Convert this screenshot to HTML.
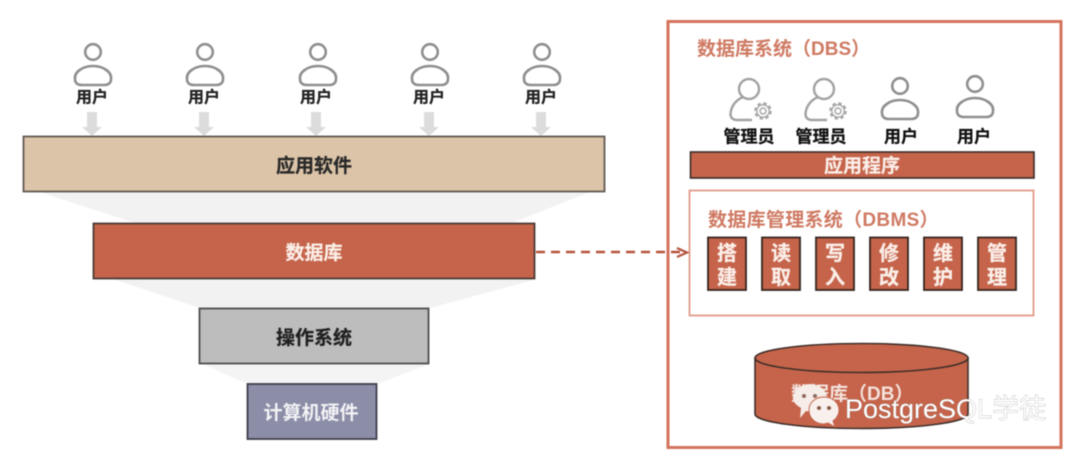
<!DOCTYPE html>
<html lang="zh-CN">
<head>
<meta charset="utf-8">
<style>
html,body{margin:0;padding:0;background:#fff;width:1080px;height:459px;overflow:hidden}
svg{display:block;filter:blur(.5px)}
text{font-family:"Liberation Sans","Noto Sans CJK SC",sans-serif;font-weight:700}
.c{text-anchor:middle}
</style>
</head>
<body>
<svg width="1080" height="459" viewBox="0 0 1080 459" xmlns="http://www.w3.org/2000/svg">
<defs>
<g id="u" fill="none" stroke="#8f8f8f" stroke-width="2.6">
<circle cx="0" cy="0" r="7.800"/>
<path d="M-18,27 C-19,20 -10,14 0,14 C10,14 19,20 18,27 C18,32 14,33 11,33 L-11,33 C-14,33 -18,32 -18,27 Z"/>
</g>
<g id="a" fill="none" stroke="#a2a2a2" stroke-width="2.400">
<circle cx="0" cy="0" r="10"/>
<path d="M-6,8 C-13,11 -18,17 -18.500,25 C-18.500,29 -16,31 -12,31 L3,31"/>
<circle cx="14" cy="22" r="3" stroke-width="1.400" stroke="#a5a5a5"/>
<circle cx="14" cy="22" r="6.200" stroke-width="1.300" stroke="#a5a5a5"/>
<circle cx="14" cy="22" r="7.800" stroke-width="2" stroke-dasharray="3.400 2.730" stroke="#a5a5a5"/>
</g>
<g id="ar" fill="#dcdcdc">
<path d="M-5,0 H5 V15 H10 L0,24 L-10,15 H-5 Z"/>
</g>
</defs>

<rect width="1080" height="459" fill="#fff"/>

<!-- funnel -->
<polygon points="40,192 590,192 512,223 135,223" fill="#f2f2f2"/>
<polygon points="113,279 537,279 430,308 200,308" fill="#f2f2f2"/>
<polygon points="203,364 430,364 377,384 247,384" fill="#f4f4f4"/>

<!-- users left -->
<use href="#u" x="93" y="52"/><use href="#u" x="205" y="52"/><use href="#u" x="318" y="52"/><use href="#u" x="430" y="52"/><use href="#u" x="542" y="52"/>
<g font-size="16" fill="#222" stroke="#222" stroke-width=".25">
<text class="c" x="92" y="102.500">用户</text>
<text class="c" x="204" y="102.500">用户</text>
<text class="c" x="316" y="102.500">用户</text>
<text class="c" x="429" y="102.500">用户</text>
<text class="c" x="541" y="102.500">用户</text>
</g>
<use href="#ar" x="92" y="112"/><use href="#ar" x="204" y="112"/><use href="#ar" x="316" y="112"/><use href="#ar" x="429" y="112"/><use href="#ar" x="541" y="112"/>

<!-- left stack -->
<rect x="23.500" y="136.500" width="581" height="55" fill="#dcc4a8" stroke="#5f5a52" stroke-width="1.800"/>
<text class="c" x="314" y="172" font-size="19" fill="#2a2a2a" stroke="#2a2a2a" stroke-width=".25">应用软件</text>
<rect x="93.500" y="223.500" width="441" height="55" fill="#c5644a" stroke="#4b3a34" stroke-width="1.800"/>
<text class="c" x="314" y="259" font-size="19" fill="#fbeee8" stroke="#fbeee8" stroke-width=".2">数据库</text>
<rect x="199.500" y="308.500" width="229" height="55" fill="#bdbdbd" stroke="#4d4d4d" stroke-width="1.800"/>
<text class="c" x="314" y="344" font-size="19" fill="#222" stroke="#222" stroke-width=".25">操作系统</text>
<rect x="247.500" y="384" width="129" height="55" fill="#8c8ea8" stroke="#3f3f4a" stroke-width="1.800"/>
<text class="c" x="311" y="419" font-size="19" fill="#f2f2f5">计算机硬件</text>

<!-- DBS -->
<rect x="668" y="21.500" width="393" height="426" fill="#fff" stroke="#d4745c" stroke-width="3"/>
<text x="697" y="55" font-size="19" fill="#cf7a63">数据库系统（DBS）</text>

<use href="#a" x="749" y="89"/><use href="#a" x="824" y="89"/>
<use href="#u" x="900" y="86"/>
<use href="#u" x="975" y="84"/>
<g font-size="17" fill="#111" stroke="#111" stroke-width=".25">
<text class="c" x="749" y="142.500">管理员</text>
<text class="c" x="821" y="142.500">管理员</text>
<text class="c" x="901" y="142.500">用户</text>
<text class="c" x="974" y="142.500">用户</text>
</g>

<rect x="690.500" y="152" width="343.500" height="26" fill="#c5644a" stroke="#3a2c28" stroke-width="1.600"/>
<text class="c" x="862" y="172" font-size="19" fill="#fbeee8" stroke="#fbeee8" stroke-width=".2">应用程序</text>

<rect x="689.500" y="190.500" width="344" height="125" fill="#fff" stroke="#e29a86" stroke-width="1.800"/>
<text x="708" y="226" font-size="19" letter-spacing=".3" fill="#cf7a63">数据库管理系统（DBMS）</text>

<g fill="#c5644a" stroke="#35251f" stroke-width="1.800">
<rect x="708" y="237.500" width="38" height="52.500"/>
<rect x="762" y="237.500" width="38" height="52.500"/>
<rect x="816" y="237.500" width="38" height="52.500"/>
<rect x="870" y="237.500" width="38" height="52.500"/>
<rect x="924" y="237.500" width="38" height="52.500"/>
<rect x="978" y="237.500" width="38" height="52.500"/>
</g>
<g fill="#fbeee8" stroke="#fbeee8" stroke-width=".3" font-size="20">
<text class="c" x="727" y="260">搭</text><text class="c" x="727" y="284">建</text>
<text class="c" x="781" y="260">读</text><text class="c" x="781" y="284">取</text>
<text class="c" x="835" y="260">写</text><text class="c" x="835" y="284">入</text>
<text class="c" x="889" y="260">修</text><text class="c" x="889" y="284">改</text>
<text class="c" x="943" y="260">维</text><text class="c" x="943" y="284">护</text>
<text class="c" x="997" y="260">管</text><text class="c" x="997" y="284">理</text>
</g>

<!-- dashed connector (drawn above the DBS frame) -->
<line x1="536" y1="252" x2="686" y2="252" stroke="#b5533c" stroke-width="2.400" stroke-dasharray="9 6"/>
<path d="M677,248 L687,252.500 L677,257" fill="none" stroke="#b5533c" stroke-width="2.200"/>

<!-- cylinder -->
<path d="M755,358 V414 A106.500,14.500 0 0 0 968,414 V358 Z" fill="#c5644a" stroke="#3f2f2a" stroke-width="1.600"/>
<ellipse cx="861.500" cy="358" rx="106.500" ry="14.500" fill="#c5644a" stroke="#3f2f2a" stroke-width="1.600"/>
<text x="791" y="400" font-size="19" fill="#f4e2dc">数据库（DB）</text>

<!-- watermark -->
<path d="M793,398 C793,390 801,384 810,384 C819,384 827,390 827,398 C827,406 820,412 811,412 L806,411 L800,418 L801,408 C796,405 793,402 793,398 Z" fill="#f6ece8"/>
<circle cx="804" cy="396" r="2" fill="#8d6a5e"/><circle cx="815" cy="396" r="2" fill="#8d6a5e"/>
<path d="M809,410 C809,402 816,397 824,397 C833,397 839,403 839,410 C839,415 836,419 833,421 L835,427 L828,423 L824,424 C815,424 809,418 809,410 Z" fill="#f8f0ed" stroke="#c5644a" stroke-width="1"/>
<circle cx="819" cy="408" r="2" fill="#8d5a4a"/><circle cx="829" cy="408" r="2" fill="#8d5a4a"/>
<text x="845" y="418" font-size="27" style="font-weight:400" fill="#fff" stroke="#8a8a8a" stroke-width=".5" paint-order="stroke">PostgreSQL学徒</text>
</svg>
</body>
</html>
